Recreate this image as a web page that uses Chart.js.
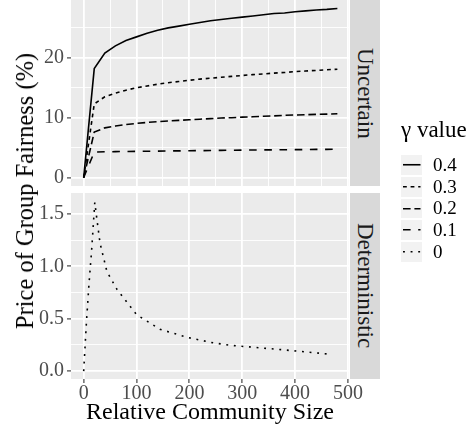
<!DOCTYPE html>
<html>
<head>
<meta charset="utf-8">
<script src="https://cdn.jsdelivr.net/npm/chart.js@4.4.0/dist/chart.umd.min.js"></script>
<style>
  body { margin: 0; width: 473px; height: 431px; position: relative; overflow: hidden; background: #fff; font-family: "Liberation Serif", serif; }
  canvas { position: absolute; left: 0; }
  .strip { position: absolute; left: 350px; width: 30px; background: #D9D9D9; color: #1A1A1A; font-size: 23px;
           display: flex; align-items: center; justify-content: center; writing-mode: vertical-rl; }
  #ytitle { position: absolute; left: 25px; top: 191px; transform: translate(-50%, -50%) rotate(-90deg); font-size: 24.5px; white-space: nowrap; color: #000; }
  #legTitle { position: absolute; left: 401px; top: 118px; font-size: 23px; line-height: 23px; color: #000; }
  .row { position: absolute; left: 401px; height: 19.5px; display: flex; align-items: center; font-size: 19px; color: #000; }
  .key { width: 21px; height: 19.5px; background: #F2F2F2; margin-right: 11px; }
</style>
</head>
<body>
<canvas id="cTop" width="473" height="226" style="top:-20px"></canvas>
<canvas id="cBot" width="473" height="258" style="top:173px"></canvas>
<div class="strip" style="top:0;height:186px">Uncertain</div>
<div class="strip" style="top:193px;height:186px">Deterministic</div>
<div id="ytitle">Price of Group Fairness (%)</div>
<div id="legTitle">γ value</div>
<div id="legend"></div>
<script>
// x values (relative community size)
const xUncertain = [0, 20, 40, 60, 80, 100, 120, 140, 160, 180, 200, 220, 240, 260, 280, 300, 320, 340, 360, 380, 400, 420, 440, 460, 480];
const gamma04 = [0, 18.2, 20.8, 22.0, 22.9, 23.5, 24.1, 24.6, 25.0, 25.3, 25.6, 25.9, 26.2, 26.4, 26.6, 26.8, 27.0, 27.2, 27.4, 27.5, 27.7, 27.85, 28.0, 28.1, 28.25];
const gamma03 = [0, 12.3, 13.5, 14.1, 14.6, 15.0, 15.3, 15.6, 15.85, 16.05, 16.25, 16.45, 16.6, 16.75, 16.9, 17.05, 17.2, 17.3, 17.45, 17.55, 17.7, 17.8, 17.9, 18.0, 18.1];
const gamma02 = [0, 7.6, 8.3, 8.6, 8.85, 9.05, 9.2, 9.35, 9.45, 9.55, 9.65, 9.75, 9.85, 9.95, 10.0, 10.1, 10.15, 10.25, 10.3, 10.4, 10.45, 10.5, 10.55, 10.6, 10.65];
const gamma01 = [0, 4.25, 4.3, 4.33, 4.36, 4.38, 4.4, 4.42, 4.44, 4.46, 4.48, 4.5, 4.52, 4.54, 4.56, 4.58, 4.6, 4.62, 4.63, 4.65, 4.66, 4.68, 4.7, 4.71, 4.73];

const xDeterministic = [0, 5, 10, 15, 21, 25, 31, 44, 63, 100, 144, 198, 245, 280, 370, 470];
const gamma0 = [0, 0.45, 0.83, 1.15, 1.61, 1.45, 1.22, 0.95, 0.78, 0.54, 0.40, 0.32, 0.27, 0.245, 0.207, 0.16];

const gammaLabels = ['0.4', '0.3', '0.2', '0.1', '0'];
const gammaDashes = [[], [3.8, 3.8], [7.6, 3.8], [7.6, 7.6], [1.9, 5.7]];

const xMajor = [0, 100, 200, 300, 400, 500];
const xMinor = [50, 150, 250, 350, 450];
const yTopMajor = [0, 10, 20];
const yTopMinor = [5, 15, 25];
const yBotMajor = [0, 0.5, 1.0, 1.5];
const yBotMinor = [0.25, 0.75, 1.25];

const tickFont = { family: 'Liberation Serif', size: 20 };

function toPoints(xs, ys) {
    return xs.map((x, i) => ({ x: x, y: ys[i] }));
}

function lineSet(label, xs, ys, dash) {
    return {
        label: label,
        data: toPoints(xs, ys),
        borderColor: '#000000',
        borderWidth: 1.6,
        borderDash: dash,
        borderCapStyle: 'butt',
        pointRadius: 0,
        tension: 0,
        fill: false
    };
}

function gridOf(majors, showTicks) {
    return {
        color: '#FFFFFF',
        lineWidth: c => (c.tick && majors.includes(c.tick.value)) ? 1.8 : 0.9,
        drawTicks: showTicks,
        tickLength: 4,
        tickWidth: 1.1,
        tickColor: c => (c.tick && majors.includes(c.tick.value)) ? '#333333' : 'rgba(0,0,0,0)'
    };
}

function setTicks(majors, minors) {
    return axis => {
        axis.ticks = majors.concat(minors).sort((a, b) => a - b).map(v => ({ value: v }));
    };
}

// grey panel background
const panelBg = {
    id: 'panelBg',
    beforeDraw(chart) {
        const a = chart.chartArea;
        const ctx = chart.ctx;
        ctx.save();
        ctx.fillStyle = '#EBEBEB';
        ctx.fillRect(a.left, a.top, a.right - a.left, a.bottom - a.top);
        ctx.restore();
    }
};

function yAxis(min, max, majors, minors, fmt) {
    return {
        type: 'linear',
        min: min,
        max: max,
        border: { display: false },
        grid: gridOf(majors, true),
        afterBuildTicks: setTicks(majors, minors),
        afterFit: s => { s.width = 71; },
        ticks: {
            font: tickFont,
            color: '#4D4D4D',
            padding: 3,
            callback: v => majors.includes(v) ? fmt(v) : ''
        }
    };
}

const commonOpts = {
    responsive: false,
    animation: false,
    plugins: { legend: { display: false }, tooltip: { enabled: false } }
};

new Chart(document.getElementById('cTop'), {
    type: 'line',
    data: {
        datasets: [
            lineSet(gammaLabels[0], xUncertain, gamma04, gammaDashes[0]),
            lineSet(gammaLabels[1], xUncertain, gamma03, gammaDashes[1]),
            lineSet(gammaLabels[2], xUncertain, gamma02, gammaDashes[2]),
            lineSet(gammaLabels[3], xUncertain, gamma01, gammaDashes[3])
        ]
    },
    options: Object.assign({}, commonOpts, {
        layout: { padding: { left: 0, right: 124, top: 20, bottom: 20 } },
        scales: {
            x: {
                type: 'linear', min: -24, max: 502,
                border: { display: false },
                grid: gridOf(xMajor, false),
                afterBuildTicks: setTicks(xMajor, xMinor),
                afterFit: s => { s.height = 0; },
                ticks: { display: false }
            },
            y: yAxis(-1.41, 29.66, yTopMajor, yTopMinor, v => String(v))
        }
    }),
    plugins: [panelBg]
});

new Chart(document.getElementById('cBot'), {
    type: 'line',
    data: {
        datasets: [
            lineSet(gammaLabels[4], xDeterministic, gamma0, gammaDashes[4])
        ]
    },
    options: Object.assign({}, commonOpts, {
        layout: { padding: { left: 0, right: 124, top: 20, bottom: 0 } },
        scales: {
            x: {
                type: 'linear', min: -24, max: 502,
                border: { display: false },
                grid: gridOf(xMajor, true),
                afterBuildTicks: setTicks(xMajor, xMinor),
                afterFit: s => { s.height = 52; },
                ticks: {
                    font: tickFont,
                    color: '#4D4D4D',
                    padding: -1,
                    maxRotation: 0,
                    callback: v => xMajor.includes(v) ? String(v) : ''
                },
                title: {
                    display: true,
                    text: 'Relative Community Size',
                    color: '#000000',
                    font: { family: 'Liberation Serif', size: 24 },
                    padding: { top: 0, bottom: 4 }
                }
            },
            y: yAxis(-0.075, 1.70, yBotMajor, yBotMinor, v => v.toFixed(1))
        }
    }),
    plugins: [panelBg]
});

// legend built from the same labels and dash patterns
const legend = document.getElementById('legend');
gammaLabels.forEach((lab, i) => {
    const row = document.createElement('div');
    row.className = 'row';
    row.style.top = (155.3 + i * 21.7) + 'px';
    const dash = gammaDashes[i].length ? gammaDashes[i].join(' ') : 'none';
    row.innerHTML = '<div class="key"><svg width="21" height="19.5"><line x1="2" y1="9.75" x2="19.5" y2="9.75" stroke="#000" stroke-width="1.6" stroke-dasharray="' + dash + '"/></svg></div><span>' + lab + '</span>';
    legend.appendChild(row);
});
</script>
</body>
</html>
